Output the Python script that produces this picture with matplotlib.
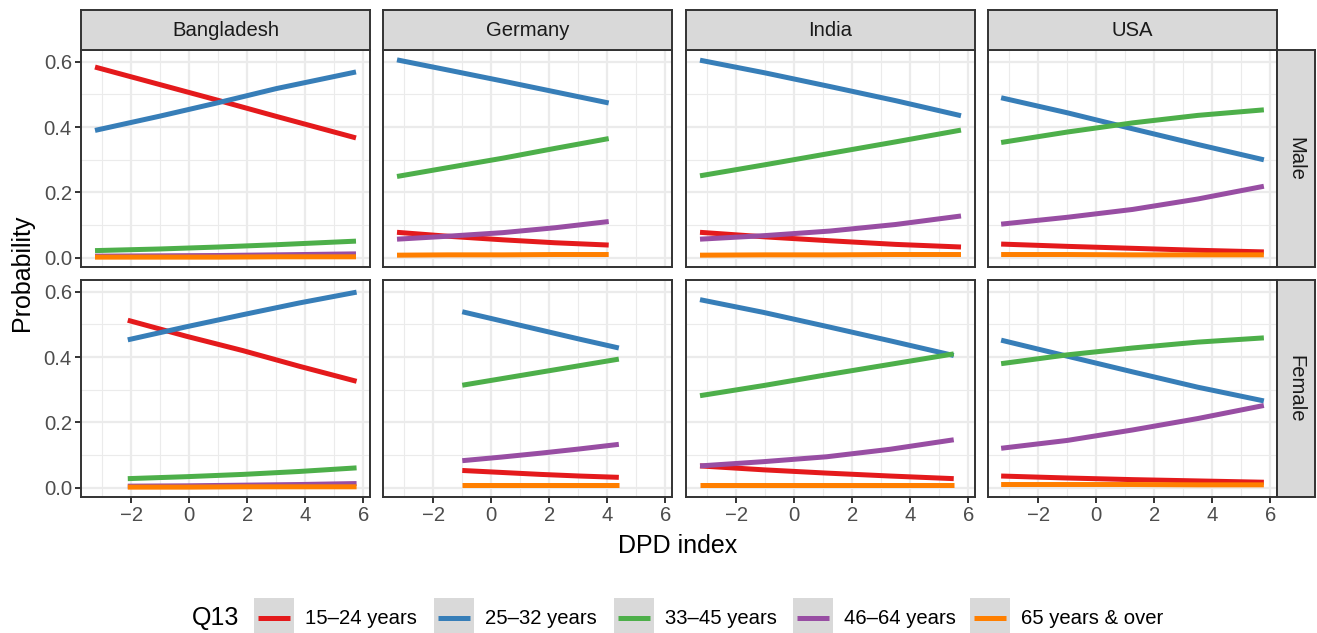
import matplotlib
matplotlib.use("Agg")
from matplotlib import pyplot as plt
from matplotlib.patches import Rectangle

plt.rcParams['font.family'] = ['Liberation Sans', 'DejaVu Sans']

# ---- data ----
countries = ['Bangladesh', 'Germany', 'India', 'USA']
sexes = ['Male', 'Female']
age_groups = ['15–24 years', '25–32 years', '33–45 years', '46–64 years', '65 years & over']
age_colors = ['#E41A1C', '#377EB8', '#4DAF4A', '#984EA3', '#FF7F00']

# DPD index values per panel, probabilities per age group (rows follow age_groups)
x_bd_male = [-3.25, -1.0, 1.0, 3.0, 5.75]
p_bd_male = [[0.584, 0.530, 0.482, 0.433, 0.367],
             [0.390, 0.434, 0.475, 0.518, 0.569],
             [0.022, 0.027, 0.033, 0.040, 0.051],
             [0.005, 0.006, 0.007, 0.009, 0.012],
             [0.002, 0.002, 0.002, 0.003, 0.003]]

x_de_male = [-3.25, -1.5, 0.4, 2.2, 4.05]
p_de_male = [[0.078, 0.066, 0.055, 0.046, 0.039],
             [0.606, 0.575, 0.541, 0.508, 0.474],
             [0.249, 0.276, 0.305, 0.335, 0.365],
             [0.057, 0.066, 0.077, 0.092, 0.111],
             [0.008, 0.009, 0.009, 0.010, 0.010]]

x_in_male = [-3.25, -1.0, 1.25, 3.5, 5.75]
p_in_male = [[0.078, 0.064, 0.052, 0.041, 0.033],
             [0.605, 0.566, 0.524, 0.481, 0.435],
             [0.251, 0.285, 0.320, 0.355, 0.391],
             [0.057, 0.068, 0.082, 0.102, 0.128],
             [0.008, 0.009, 0.009, 0.010, 0.010]]

x_us_male = [-3.28, -1.0, 1.25, 3.5, 5.78]
p_us_male = [[0.042, 0.035, 0.029, 0.023, 0.018],
             [0.490, 0.444, 0.395, 0.347, 0.300],
             [0.353, 0.385, 0.413, 0.436, 0.453],
             [0.103, 0.124, 0.148, 0.180, 0.219],
             [0.010, 0.010, 0.009, 0.009, 0.009]]

x_bd_female = [-2.12, -0.1, 1.85, 3.8, 5.77]
p_bd_female = [[0.513, 0.464, 0.420, 0.372, 0.326],
               [0.453, 0.493, 0.530, 0.566, 0.599],
               [0.028, 0.034, 0.041, 0.050, 0.061],
               [0.005, 0.006, 0.008, 0.010, 0.013],
               [0.002, 0.002, 0.003, 0.003, 0.003]]

x_de_female = [-1.0, 0.35, 1.7, 3.05, 4.4]
p_de_female = [[0.053, 0.047, 0.041, 0.036, 0.032],
               [0.539, 0.511, 0.483, 0.455, 0.428],
               [0.314, 0.334, 0.354, 0.374, 0.394],
               [0.083, 0.094, 0.106, 0.119, 0.133],
               [0.010, 0.010, 0.010, 0.010, 0.010]]

x_in_female = [-3.25, -1.06, 1.12, 3.31, 5.5]
p_in_female = [[0.067, 0.055, 0.045, 0.036, 0.028],
               [0.576, 0.537, 0.494, 0.450, 0.405],
               [0.282, 0.313, 0.346, 0.378, 0.410],
               [0.067, 0.080, 0.095, 0.118, 0.147],
               [0.009, 0.009, 0.009, 0.009, 0.009]]

x_us_female = [-3.28, -1.0, 1.25, 3.5, 5.78]
p_us_female = [[0.036, 0.030, 0.025, 0.021, 0.017],
               [0.452, 0.403, 0.355, 0.308, 0.266],
               [0.380, 0.407, 0.428, 0.446, 0.459],
               [0.121, 0.145, 0.177, 0.212, 0.252],
               [0.010, 0.010, 0.010, 0.009, 0.009]]

x_ticks = [-2, 0, 2, 4, 6]
x_minor = [-3, -1, 1, 3, 5]
y_ticks = [0.0, 0.2, 0.4, 0.6]
y_minor = [0.1, 0.3, 0.5]

panels = {
    ('Male', 'Bangladesh'): (x_bd_male, p_bd_male),
    ('Male', 'Germany'): (x_de_male, p_de_male),
    ('Male', 'India'): (x_in_male, p_in_male),
    ('Male', 'USA'): (x_us_male, p_us_male),
    ('Female', 'Bangladesh'): (x_bd_female, p_bd_female),
    ('Female', 'Germany'): (x_de_female, p_de_female),
    ('Female', 'India'): (x_in_female, p_in_female),
    ('Female', 'USA'): (x_us_female, p_us_female),
}

# ---- layout (pixels) ----
W, H = 1317, 633
fig = plt.figure(figsize=(W / 100, H / 100), dpi=100, facecolor='white')

panel_left = [81, 383, 686, 988]
panel_w = 289
panel_top = [50, 280]
panel_h = 217
strip_h = 40
strip_w = 38

small = 14.6
big = 18.0
grey20 = '#333333'
grid_col = '#EBEBEB'
strip_fill = '#D9D9D9'

# shared limits with ggplot-like 5% expansion
all_x = [v for xs, _ in panels.values() for v in xs]
all_y = [v for _, ps in panels.values() for row in ps for v in row]
xr = max(all_x) - min(all_x)
yr = max(all_y) - min(all_y)
xlim = (min(all_x) - 0.05 * xr, max(all_x) + 0.05 * xr)
ylim = (min(all_y) - 0.05 * yr, max(all_y) + 0.05 * yr)


def px_axes(left, top, w, h):
    return fig.add_axes([left / W, 1 - (top + h) / H, w / W, h / H])


def strip(left, top, w, h, label, rot):
    sax = px_axes(left, top, w, h)
    sax.set_facecolor(strip_fill)
    sax.set_xticks([])
    sax.set_yticks([])
    for s in sax.spines.values():
        s.set_color(grey20)
        s.set_linewidth(1.4)
    sax.text(0.5, 0.5, label, ha='center', va='center', fontsize=small,
             color='#1A1A1A', rotation=rot, transform=sax.transAxes)


for r, sex in enumerate(sexes):
    for c, country in enumerate(countries):
        ax = px_axes(panel_left[c], panel_top[r], panel_w, panel_h)
        xs, ps = panels[(sex, country)]
        for vals, col in zip(ps, age_colors):
            ax.plot(xs, vals, color=col, lw=3.6, solid_capstyle='butt', zorder=3)
        ax.set_xlim(*xlim)
        ax.set_ylim(*ylim)
        for v in x_minor:
            ax.axvline(v, color=grid_col, lw=0.8, zorder=1)
        for v in y_minor:
            ax.axhline(v, color=grid_col, lw=0.8, zorder=1)
        for v in x_ticks:
            ax.axvline(v, color=grid_col, lw=1.6, zorder=1)
        for v in y_ticks:
            ax.axhline(v, color=grid_col, lw=1.6, zorder=1)
        for s in ax.spines.values():
            s.set_color(grey20)
            s.set_linewidth(1.4)
            s.set_zorder(5)
        ax.set_xticks(x_ticks)
        ax.set_yticks(y_ticks)
        ax.tick_params(length=4, width=1.4, color=grey20, labelcolor='#4D4D4D',
                       labelsize=small, pad=2.5)
        if r == 0:
            ax.tick_params(axis='x', length=0, labelbottom=False)
        else:
            ax.set_xticklabels([f'{t:g}'.replace('-', '−') for t in x_ticks])
        if c == 0:
            ax.set_yticklabels([f'{t:.1f}' for t in y_ticks])
        else:
            ax.tick_params(axis='y', length=0, labelleft=False)

        if r == 0:
            strip(panel_left[c], panel_top[0] - strip_h, panel_w, strip_h, country, 0)
        if c == len(countries) - 1:
            strip(panel_left[c] + panel_w, panel_top[r], strip_w, panel_h, sex, -90)

# axis titles
fig.text(22 / W, 1 - 273 / H, 'Probability', rotation=90, ha='center', va='center',
         fontsize=big, color='black')
fig.text(678 / W, 1 - 546 / H, 'DPD index', ha='center', va='center',
         fontsize=big, color='black')

# legend drawn by hand at the bottom
leg = fig.add_axes([0, 0, 1, 1])
leg.set_xlim(0, W)
leg.set_ylim(H, 0)
leg.axis('off')
leg.patch.set_alpha(0)
leg.text(192, 618, 'Q13', ha='left', va='center', fontsize=big, color='black')
key_x = [254, 434, 614, 793, 970]
for kx, lab, col in zip(key_x, age_groups, age_colors):
    leg.add_patch(Rectangle((kx, 598), 40, 40, facecolor=strip_fill, edgecolor='none'))
    leg.plot([kx + 4, kx + 36], [618, 618], color=col, lw=3.6, solid_capstyle='butt')
    leg.text(kx + 51, 618, lab, ha='left', va='center', fontsize=small, color='black')

fig.savefig('out.png', dpi=100, facecolor='white')
